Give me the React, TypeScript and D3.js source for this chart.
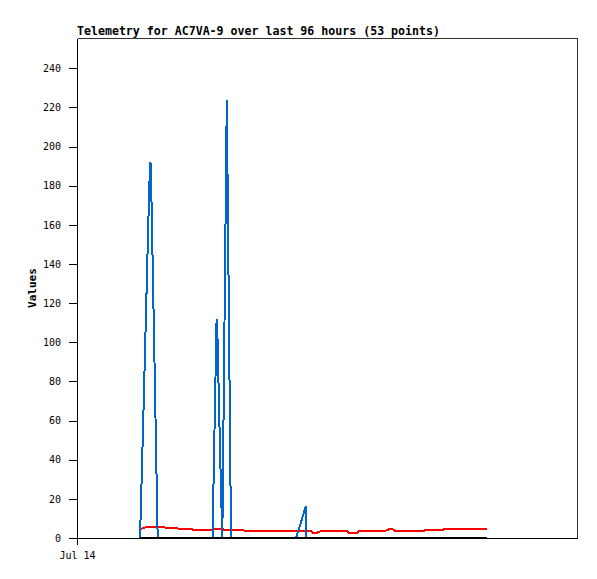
import * as d3 from 'd3';
import { useEffect, useRef } from 'react';

// hours after Jul 14 00:00 for each of the 53 telemetry packets
const hours = [
  12.10, 12.67, 13.25, 13.88, 14.11, 14.27, 14.88, 15.49, 16.70, 17.09,
  19.20, 19.58, 21.89, 22.27, 24.38, 24.77, 25.73, 26.02, 26.40, 26.80,
  26.96, 27.46, 27.90, 28.32, 28.76, 29.18, 29.57, 33.22, 38.02, 42.05,
  43.01, 43.93, 44.03, 44.93, 45.31, 46.08, 46.46, 47.04, 49.54, 51.84,
  52.22, 53.76, 54.14, 56.64, 59.33, 60.29, 61.06, 63.94, 66.62, 67.01,
  70.27, 70.66, 78.72,
];

const blueValues = [
  0, 55, 115, 180, 192, 177, 90, 0, 0, 0,
  0, 0, 0, 0, 0, 0, 0, 0, 55, 112,
  104, 45, 0, 110, 224, 110, 0, 0, 0, 0,
  8, 16.3, 0, 0, 0, 0, 0, 0, 0, 0,
  0, 0, 0, 0, 0, 0, 0, 0, 0, 0,
  0, 0, 0,
];

const redValues = [
  4.5, 5.0, 5.6, 5.8, 5.8, 5.8, 5.8, 5.8, 5.7, 5.1,
  5.1, 4.7, 4.7, 4.2, 4.2, 3.9, 3.9, 4.6, 4.7, 4.7,
  4.7, 4.7, 4.7, 3.9, 3.9, 3.9, 3.9, 3.8, 3.7, 3.7,
  3.7, 3.7, 3.6, 3.6, 2.7, 2.7, 3.2, 3.7, 3.7, 3.7,
  2.7, 2.7, 3.8, 3.8, 3.8, 4.9, 3.7, 3.7, 3.7, 4.2,
  4.2, 4.8, 4.8,
];

const blackValues = hours.map(() => 0);

const yTicks = [0, 20, 40, 60, 80, 100, 120, 140, 160, 180, 200, 220, 240];
const title = 'Telemetry for AC7VA-9 over last 96 hours (53 points)';
const yLabel = 'Values';

const start = new Date(2024, 6, 14, 0, 0);
const end = new Date(2024, 6, 18, 0, 0);

export default function App() {
  const svgRef = useRef<SVGSVGElement | null>(null);
  const width = 597;
  const height = 579;
  const margin = { top: 38, left: 77 };
  const innerWidth = 500;
  const innerHeight = 500;

  useEffect(() => {
    const svg = d3.select(svgRef.current);
    svg.selectAll('*').remove();

    const x = d3.scaleTime().domain([start, end]).range([0, innerWidth]);
    const y = d3.scaleLinear().domain([0, 255.5]).range([innerHeight, 0]);

    const dates = hours.map((h) => new Date(start.getTime() + h * 3600 * 1000));

    svg.append('rect').attr('width', width).attr('height', height).attr('fill', '#fff');

    svg.append('text')
      .attr('x', margin.left)
      .attr('y', 35)
      .attr('font-family', 'DejaVu Sans Mono')
      .attr('font-weight', 'bold')
      .attr('font-size', 11.6)
      .attr('fill', '#000')
      .text(title);

    svg.append('text')
      .attr('transform', `translate(36, ${margin.top + innerHeight / 2}) rotate(-90)`)
      .attr('text-anchor', 'middle')
      .attr('font-family', 'DejaVu Sans Mono')
      .attr('font-weight', 'bold')
      .attr('font-size', 11)
      .attr('fill', '#000')
      .text(yLabel);

    const g = svg.append('g').attr('transform', `translate(${margin.left},${margin.top})`);

    // frame top & right
    g.append('path')
      .attr('d', `M0.5,0.5H${innerWidth + 0.5}V${innerHeight + 0.5}`)
      .attr('fill', 'none')
      .attr('stroke', '#333')
      .attr('stroke-width', 1)
      .attr('shape-rendering', 'crispEdges');

    const yAxis = g.append('g')
      .call(d3.axisLeft(y).tickValues(yTicks).tickSize(8).tickSizeOuter(0).tickPadding(8))
      .attr('font-family', 'DejaVu Sans Mono')
      .attr('font-size', 10);
    yAxis.selectAll('line, path').attr('stroke', '#000').attr('shape-rendering', 'crispEdges');

    const xAxis = g.append('g')
      .attr('transform', `translate(0,${innerHeight})`)
      .call(d3.axisBottom(x).tickValues([start]).tickSize(7).tickSizeOuter(0).tickPadding(7)
        .tickFormat((d) => d3.timeFormat('%b %d')(d as Date)))
      .attr('font-family', 'DejaVu Sans Mono')
      .attr('font-size', 10);
    xAxis.selectAll('line, path').attr('stroke', '#000').attr('shape-rendering', 'crispEdges');

    const line = d3.line<number>()
      .x((_, i) => x(dates[i]))
      .y((d) => y(d));

    const series = [
      { values: redValues, color: '#ff0000' },
      { values: blueValues, color: '#0066cc' },
      { values: blackValues, color: '#000000' },
    ];

    series.forEach((s) => {
      g.append('path')
        .datum(s.values)
        .attr('fill', 'none')
        .attr('stroke', s.color)
        .attr('stroke-width', 2)
        .attr('shape-rendering', 'crispEdges')
        .attr('d', line);
    });
  }, []);

  return <svg ref={svgRef} width={width} height={height} style={{ display: 'block', margin: '-8px' }} />;
}
